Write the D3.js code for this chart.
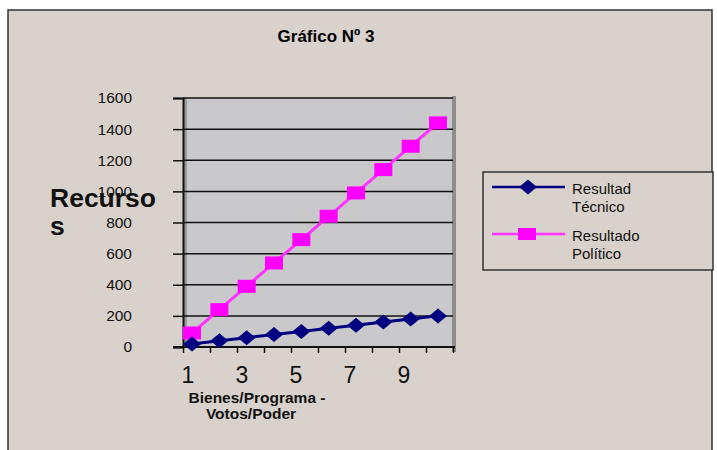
<!DOCTYPE html>
<html><head><meta charset="utf-8">
<script src="https://cdn.jsdelivr.net/npm/d3@7/dist/d3.min.js"></script>
<style>body{margin:0;background:#fff}svg{display:block}text{font-family:"Liberation Sans",Arial,sans-serif}</style>
</head><body><svg id="c" width="717" height="450"></svg>
<script>
const categories = [1,2,3,4,5,6,7,8,9,10];
const tecnico = [20,40,60,80,100,120,140,160,180,200];
const politico = [90,240,390,540,690,840,990,1140,1290,1440];
const yTicks = [0,200,400,600,800,1000,1200,1400,1600];
const xTickLabels = [1,3,5,7,9];
const seriesNames = [["Resultad","Técnico"],["Resultado","Político"]];

const svg = d3.select("#c");
svg.append("rect").attr("x",0).attr("y",0).attr("width",717).attr("height",450).attr("fill","#fff");
svg.append("rect").attr("x",8).attr("y",10).attr("width",704).attr("height",460)
  .attr("fill","#d9d1cb").attr("stroke","#333").attr("stroke-width",1.5);

svg.append("text").attr("x",326).attr("y",42).attr("text-anchor","middle")
  .attr("font-size",17).attr("font-weight","bold").text("Gráfico Nº 3");

const L=183,R=453,T=98,B=347;
const y = d3.scaleLinear().domain([0,1600]).range([B,T]);
const xb = d3.scaleLinear().domain([0.5,10.5]).range([L,R]);
const xp = d3.scaleLinear().domain([1,10]).range([192,438]);

svg.append("rect").attr("x",L).attr("y",T).attr("width",R-L).attr("height",B-T).attr("fill","#c9c9cb");
svg.append("rect").attr("x",R-1).attr("y",T-2).attr("width",4).attr("height",B-T+7).attr("fill","#8e8e8e");
svg.append("rect").attr("x",L+1).attr("y",T).attr("width",3).attr("height",B-T).attr("fill","#9a9a9a");

svg.append("g").selectAll("line").data(yTicks.filter(d=>d>0)).join("line")
  .attr("x1",L).attr("x2",R).attr("y1",d=>y(d)).attr("y2",d=>y(d))
  .attr("stroke","#111").attr("stroke-width",1.5);

const ya = svg.append("g").attr("transform",`translate(${L},0)`)
  .call(d3.axisLeft(y).tickValues(yTicks).tickSize(10).tickPadding(0).tickFormat(d3.format("d")));
ya.select(".domain").attr("stroke","#111").attr("stroke-width",2);
ya.selectAll(".tick line").attr("stroke","#111").attr("stroke-width",1.5);
ya.selectAll(".tick text").attr("x",-51).attr("font-size",15.5).attr("fill","#111")
  .attr("font-family","'Liberation Sans',Arial,sans-serif");

const xa = svg.append("g").attr("transform",`translate(0,${B})`)
  .call(d3.axisBottom(xb).tickValues(d3.range(0.5,11,1)).tickSize(6).tickFormat(""));
xa.select(".domain").attr("d",`M${L-10},0H${R+2}`).attr("stroke","#111").attr("stroke-width",2);
xa.selectAll(".tick line").attr("stroke","#111").attr("stroke-width",1.5);

svg.append("g").selectAll("text").data(xTickLabels).join("text")
  .attr("x",d=>xb(d)-8.5).attr("y",383).attr("text-anchor","middle")
  .attr("font-size",23).attr("fill","#111").text(d=>d);

const yt = svg.append("text").attr("x",50).attr("font-size",26.5).attr("font-weight","bold").attr("fill","#111");
yt.append("tspan").attr("x",50).attr("y",207).text("Recurso");
yt.append("tspan").attr("x",50).attr("y",235).text("s");
const xt = svg.append("text").attr("font-size",15.5).attr("font-weight","bold").attr("text-anchor","middle").attr("fill","#111");
xt.append("tspan").attr("x",257).attr("y",403).text("Bienes/Programa -");
xt.append("tspan").attr("x",251).attr("y",419).text("Votos/Poder");

const line = d3.line().x((d,i)=>xp(categories[i])).y(d=>y(d));
svg.append("path").datum(politico).attr("d",line).attr("fill","none").attr("stroke","#ff33ff").attr("stroke-width",3);
svg.append("path").datum(tecnico).attr("d",line).attr("fill","none").attr("stroke","#000080").attr("stroke-width",3);

const diamond = (cx,cy)=>`M${cx-9},${cy}L${cx},${cy-7.5}L${cx+9},${cy}L${cx},${cy+7.5}Z`;
svg.append("g").selectAll("rect").data(politico).join("rect")
  .attr("x",(d,i)=>xp(categories[i])-9).attr("y",d=>y(d)-6.5).attr("width",18).attr("height",13).attr("fill","#ff00ff");
svg.append("g").selectAll("path").data(tecnico).join("path")
  .attr("d",(d,i)=>diamond(xp(categories[i]),y(d))).attr("fill","#000080");

const lg = svg.append("g");
lg.append("rect").attr("x",483).attr("y",172).attr("width",230).attr("height",98)
  .attr("fill","#d9d1cb").attr("stroke","#333").attr("stroke-width",1.5);
const ly=[187,234];
lg.append("line").attr("x1",492).attr("x2",565).attr("y1",ly[0]).attr("y2",ly[0]).attr("stroke","#000080").attr("stroke-width",2.5);
lg.append("path").attr("d",diamond(528,ly[0])).attr("fill","#000080");
lg.append("line").attr("x1",492).attr("x2",565).attr("y1",ly[1]).attr("y2",ly[1]).attr("stroke","#ff33ff").attr("stroke-width",2.5);
lg.append("rect").attr("x",518).attr("y",ly[1]-6).attr("width",18).attr("height",12).attr("fill","#ff00ff");
seriesNames.forEach((n,i)=>{
  const t = lg.append("text").attr("font-size",15).attr("fill","#111");
  t.append("tspan").attr("x",572).attr("y",ly[i]+7).text(n[0]);
  t.append("tspan").attr("x",572).attr("y",ly[i]+25).text(n[1]);
});
</script></body></html>
